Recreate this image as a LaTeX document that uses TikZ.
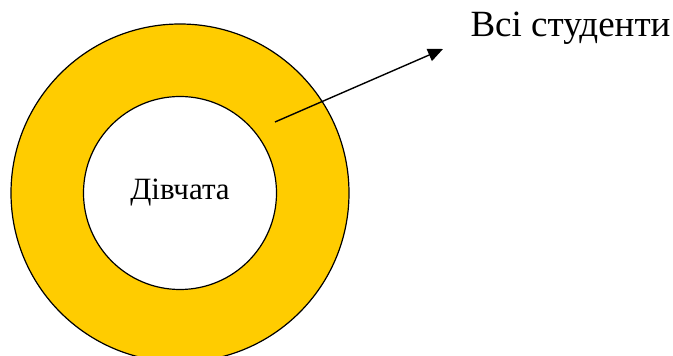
\documentclass[tikz,border=0pt]{standalone}
\usepackage{fontspec}
\setmainfont{Liberation Serif}
\usepackage{tikz}
\usetikzlibrary{arrows.meta}
\definecolor{ringyellow}{RGB}{255,204,0}

\begin{document}
\begin{tikzpicture}[
    x=1pt, y=1pt,
    every node/.style={font=\fontsize{31}{34}\selectfont},
    setcircle/.style={circle, draw, line width=1.2pt, inner sep=0pt},
    arr/.style={-{Triangle[length=15pt, width=13pt]}, line width=1.4pt}
]
\useasboundingbox (0,0) rectangle (673,356);
\clip (0,0) rectangle (673,356);

% All students (outer) and girls (inner)
\node[setcircle, fill=ringyellow, minimum size=338pt] (vsi) at (180,163) {};
\node[setcircle, fill=white, minimum size=193pt] (divchata) at (vsi.center) {Дівчата};

% Label and arrow
\node[anchor=base west, font=\fontsize{37}{40}\selectfont] (students) at (467,319) {Всі студенти};
\coordinate (from) at (275,234);
\coordinate (tip) at (443,307);
\draw[arr] (from) -- (tip);

\end{tikzpicture}
\end{document}
